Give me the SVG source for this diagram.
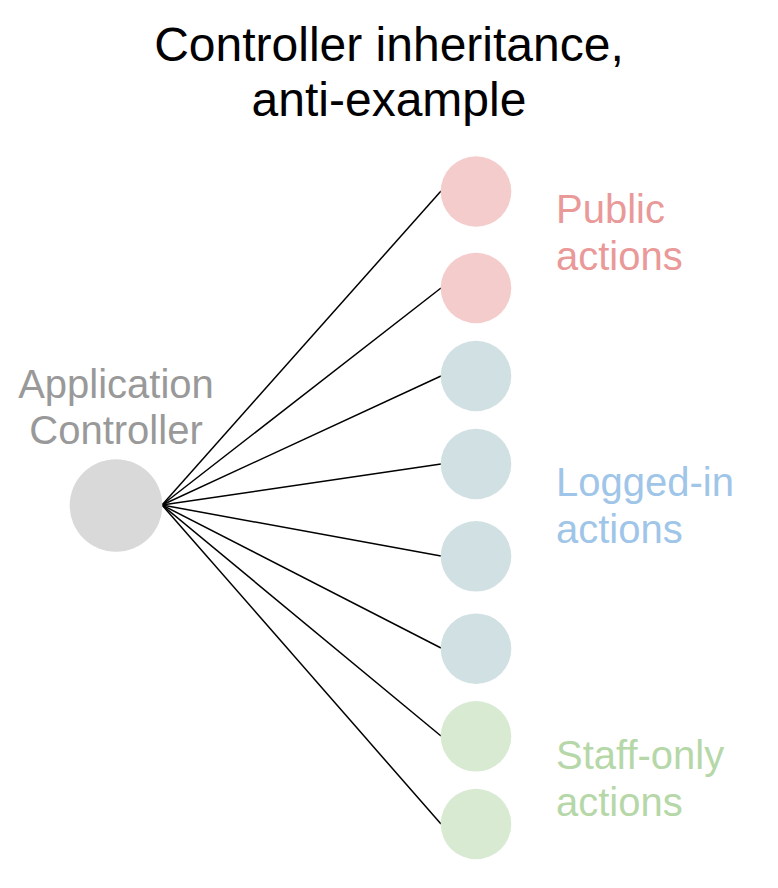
<svg xmlns="http://www.w3.org/2000/svg" width="778" height="888" viewBox="0 0 778 888">
<style>
text{font-family:"Liberation Sans",Arial,sans-serif}
.title{font-size:48px;fill:#000;text-anchor:middle}
.lbl{font-size:40px}
.conn line{stroke:#000;stroke-width:1.5}
.pub{fill:#f4cccc}.log{fill:#d0e0e3}.stf{fill:#d9ead3}
</style>
<rect width="778" height="888" fill="#fff"/>
<g id="title">
<text class="title" x="389" y="61">Controller inheritance,</text>
<text class="title" x="389" y="116">anti-example</text>
</g>
<g id="connectors" class="conn">
<line x1="162" y1="505" x2="441" y2="191"/>
<line x1="162" y1="505" x2="441" y2="288"/>
<line x1="162" y1="505" x2="441" y2="376"/>
<line x1="162" y1="505" x2="441" y2="464"/>
<line x1="162" y1="505" x2="441" y2="556"/>
<line x1="162" y1="505" x2="441" y2="648"/>
<line x1="162" y1="505" x2="441" y2="736"/>
<line x1="162" y1="505" x2="441" y2="824"/>
</g>
<g id="app-controller">
<circle cx="116" cy="505.5" r="46.3" fill="#d9d9d9"/>
<text class="lbl" x="116" y="398" fill="#999999" text-anchor="middle">Application</text>
<text class="lbl" x="116" y="444" fill="#999999" text-anchor="middle">Controller</text>
</g>
<g id="public1"><circle class="pub" cx="476" cy="191.5" r="35.3"/></g>
<g id="public2"><circle class="pub" cx="476" cy="288" r="35.3"/></g>
<g id="logged1"><circle class="log" cx="476" cy="376" r="35.3"/></g>
<g id="logged2"><circle class="log" cx="476" cy="464" r="35.3"/></g>
<g id="logged3"><circle class="log" cx="476" cy="556.3" r="35.3"/></g>
<g id="logged4"><circle class="log" cx="476" cy="648.7" r="35.3"/></g>
<g id="staff1"><circle class="stf" cx="476" cy="736.3" r="35.3"/></g>
<g id="staff2"><circle class="stf" cx="476" cy="824" r="35.3"/></g>
<g id="public-label" fill="#ea9999">
<text class="lbl" x="556" y="223">Public</text>
<text class="lbl" x="556" y="270">actions</text>
</g>
<g id="logged-label" fill="#9fc5e8">
<text class="lbl" x="556" y="496">Logged-in</text>
<text class="lbl" x="556" y="543">actions</text>
</g>
<g id="staff-label" fill="#b6d7a8">
<text class="lbl" x="556" y="769">Staff-only</text>
<text class="lbl" x="556" y="816">actions</text>
</g>
</svg>
